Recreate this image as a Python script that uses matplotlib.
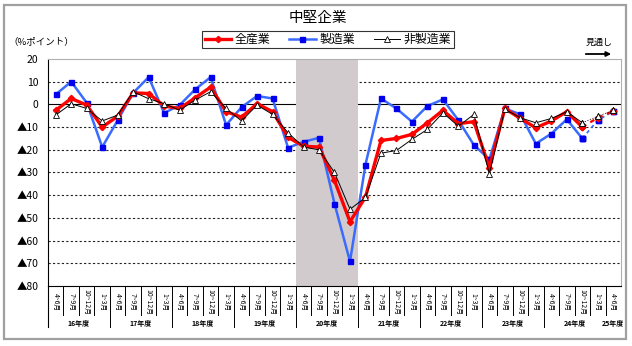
import matplotlib
matplotlib.use("Agg")
import matplotlib.pyplot as plt
from matplotlib.lines import Line2D
from matplotlib.patches import Rectangle, FancyArrowPatch
import numpy as np

plt.rcParams["font.family"] = ["Noto Sans CJK JP", "DejaVu Sans"]

# 業況判断 DI（中堅企業）, 16年度 4~6月 〜 25年度 4~6月
years = ["16年度", "17年度", "18年度", "19年度", "20年度",
         "21年度", "22年度", "23年度", "24年度", "25年度"]
quarters = ["4~6月", "7~9月", "10~12月", "1~3月"]

all_ind = [-2.6, 2.6, -0.3, -10.0, -5.2, 5.1, 4.8, -0.7, -1.8, 2.9,
           7.6, -3.2, -5.6, 0.3, -3.2, -14.5, -18.4, -18.8, -33.5, -51.7,
           -40.8, -15.9, -15.0, -13.2, -8.1, -2.6, -8.5, -7.6, -27.9, -1.8,
           -6.2, -10.3, -7.3, -3.2, -10.0, -5.9, -3.0]
manuf = [4.4, 10.0, 0.7, -18.8, -7.0, 5.1, 12.0, -3.8, -0.3, 6.6,
         12.0, -9.1, -1.2, 3.7, 2.6, -19.1, -16.5, -14.7, -43.7, -69.2,
         -26.5, 2.6, -1.8, -7.6, -0.7, 2.2, -7.0, -17.9, -24.2, -1.8,
         -4.4, -17.3, -12.9, -6.6, -15.0, -7.0, -3.0]
non_manuf = [-4.7, 0.3, -1.8, -7.3, -4.7, 5.6, 2.5, 0.3, -2.6, 1.9,
             5.6, -1.8, -7.3, -0.3, -4.4, -12.5, -18.8, -20.0, -30.0, -46.2,
             -41.0, -21.5, -20.3, -15.4, -11.0, -3.7, -9.6, -4.4, -30.6, -2.2,
             -5.9, -8.1, -6.2, -3.2, -8.1, -5.2, -2.6]

n_actual = 35  # 実績は 24年度 10~12月 まで、以降は見通し
labels = [q for _ in years[:-1] for q in quarters] + quarters[:1]
x = np.arange(len(labels))

fig = plt.figure(figsize=(6.32, 3.46), dpi=100)
ax = fig.add_axes([48 / 632, 1 - 286 / 346, 573 / 632, 227 / 346])

# 景気後退期のシャドー
ax.axvspan(15.5, 19.5, color="#d2cbce", zorder=1, lw=0)

for yv in range(-70, 20, 10):
    if yv == 0:
        ax.axhline(0, color="black", lw=0.8, zorder=0.5)
    else:
        ax.axhline(yv, color="#222222", lw=0.8, ls=(0, (2, 2)), zorder=0.5)

series = [
    (all_ind, dict(color="#ff0000", lw=2.4, marker="D", ms=3.2,
                   mfc="#ff0000", mec="#ff0000"), 4),
    (manuf, dict(color="#3a6bff", lw=1.8, marker="s", ms=3.6,
                 mfc="#0000ee", mec="#0000ee"), 3),
    (non_manuf, dict(color="black", lw=0.7, marker="^", ms=4.5,
                     mfc="white", mec="black", mew=0.6), 5),
]
for vals, style, z in series:
    vals = np.asarray(vals)
    ax.plot(x[:n_actual], vals[:n_actual], zorder=z, **style)
    ax.plot(x[n_actual - 1:], vals[n_actual - 1:], zorder=z,
            **{**style, "ls": (0, (2, 2)), "lw": style["lw"] * 0.7})
    ax.plot(x[n_actual - 1:], vals[n_actual - 1:], ls="none", zorder=z + 0.1,
            **{k: v for k, v in style.items() if k not in ("color", "lw")})

ax.set_xlim(-0.5, len(labels) - 0.5)
ax.set_ylim(-80, 20)
ax.set_yticks(range(-80, 30, 10))
ax.set_yticklabels([str(v) if v >= 0 else f"▲{-v}" for v in range(-80, 30, 10)],
                   fontsize=7.5)
ax.tick_params(axis="y", length=0, pad=7)
ax.set_xticks([])
for side in ("top", "right"):
    ax.spines[side].set_color("#b0b0b0")
ax.spines["left"].set_color("black")
ax.spines["bottom"].set_color("black")
ax.spines["left"].set_linewidth(0.8)
ax.spines["bottom"].set_linewidth(0.8)

# 横軸：四半期ラベルと年度ラベル
trans = ax.get_xaxis_transform()
for i, lab in enumerate(labels):
    ax.text(i, -0.072, lab, transform=trans, rotation=270, ha="center",
            va="center", fontsize=4.9)
for i in range(1, len(labels)):
    is_year = i % 4 == 0 and i < len(labels) - 1
    ax.plot([i - 0.5, i - 0.5], [0, -0.181 if is_year else -0.128],
            transform=trans, color="black", lw=0.7, clip_on=False)
ax.plot([-0.5, -0.5], [0, -0.181], transform=trans, color="black",
        lw=0.8, clip_on=False)
for k, yr in enumerate(years):
    cx = 4 * k + 1.5 if k < len(years) - 1 else 4 * k
    ax.text(cx, -0.165, yr, transform=trans, ha="center", va="center",
            fontsize=5, fontweight="bold")

fig.text(318 / 632, 1 - 18 / 346, "中堅企業", ha="center", va="center",
         fontsize=10.5)
fig.text(8 / 632, 1 - 42 / 346, "（%ポイント）", ha="left", va="center",
         fontsize=6.8)
fig.text(599 / 632, 1 - 42 / 346, "見通し", ha="center", va="center",
         fontsize=6.5)
fig.add_artist(FancyArrowPatch(
    (583 / 632, 1 - 54 / 346), (614 / 632, 1 - 54 / 346),
    transform=fig.transFigure, arrowstyle="-|>", mutation_scale=7,
    color="black", lw=1.3))

handles = [
    Line2D([], [], color="#ff0000", lw=2.4, marker="D", ms=3.2),
    Line2D([], [], color="#3a6bff", lw=1.8, marker="s", ms=3.6,
           mfc="#0000ee", mec="#0000ee"),
    Line2D([], [], color="black", lw=0.7, marker="^", ms=4.5,
           mfc="white", mec="black", mew=0.6),
]
leg = fig.legend(handles, ["全産業", "製造業", "非製造業"], ncol=3,
                 loc="center", bbox_to_anchor=(328 / 632, 1 - 39.5 / 346),
                 fontsize=8.6, frameon=True, fancybox=False, handlelength=2.2,
                 handletextpad=0.3, columnspacing=1.6, borderpad=0.2,
                 edgecolor="black")
leg.get_frame().set_linewidth(0.8)

fig.add_artist(Rectangle((4 / 632, 7 / 346), 622 / 632, 334 / 346,
                         transform=fig.transFigure, fill=False,
                         edgecolor="#a0a0a0", lw=1.6))

fig.savefig("out.png", dpi=100)
